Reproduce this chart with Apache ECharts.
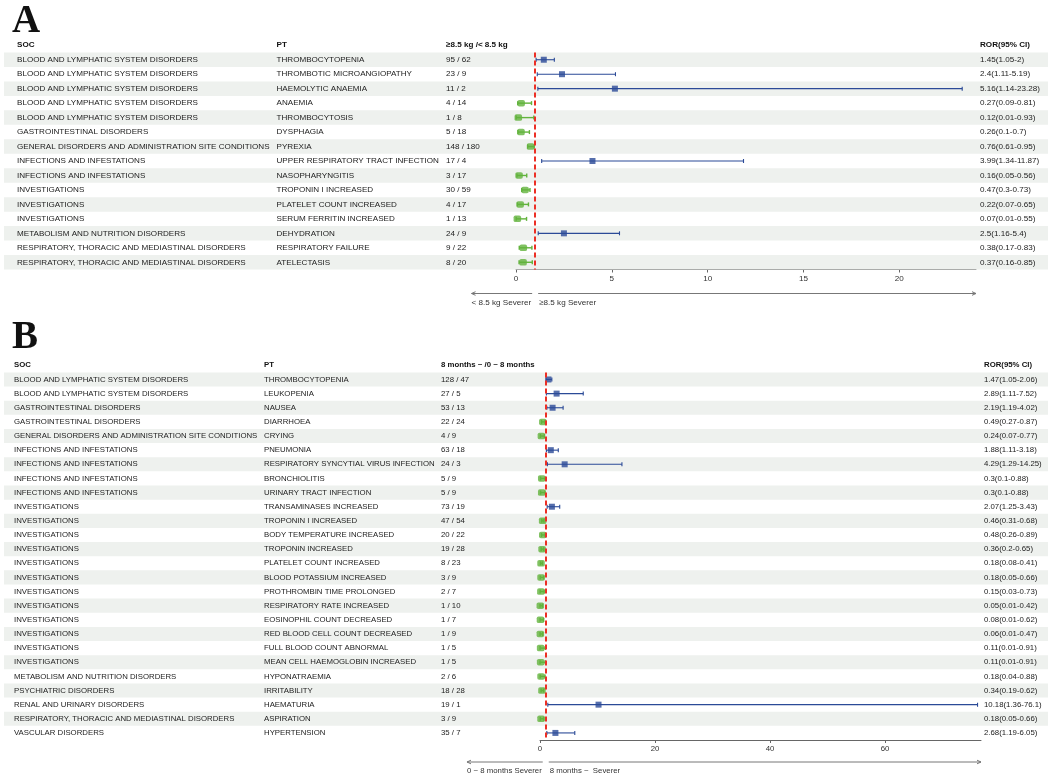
<!DOCTYPE html>
<html lang="en">
<head>
<meta charset="UTF-8">
<title>Forest plot</title>
<script src="https://cdn.jsdelivr.net/npm/echarts@6/dist/echarts.min.js"></script>
<style>
  html, body { margin: 0; padding: 0; background: #fff; }
  #chart { width: 1052px; height: 776px; }
</style>
</head>
<body>
<div id="chart"></div>
<script>
// ---------- panel A : body weight ----------
var socA = [
  'BLOOD AND LYMPHATIC SYSTEM DISORDERS', 'BLOOD AND LYMPHATIC SYSTEM DISORDERS',
  'BLOOD AND LYMPHATIC SYSTEM DISORDERS', 'BLOOD AND LYMPHATIC SYSTEM DISORDERS',
  'BLOOD AND LYMPHATIC SYSTEM DISORDERS', 'GASTROINTESTINAL DISORDERS',
  'GENERAL DISORDERS AND ADMINISTRATION SITE CONDITIONS',
  'INFECTIONS AND INFESTATIONS', 'INFECTIONS AND INFESTATIONS',
  'INVESTIGATIONS', 'INVESTIGATIONS', 'INVESTIGATIONS',
  'METABOLISM AND NUTRITION DISORDERS',
  'RESPIRATORY, THORACIC AND MEDIASTINAL DISORDERS',
  'RESPIRATORY, THORACIC AND MEDIASTINAL DISORDERS'
];
var ptA = [
  'THROMBOCYTOPENIA', 'THROMBOTIC MICROANGIOPATHY', 'HAEMOLYTIC ANAEMIA', 'ANAEMIA',
  'THROMBOCYTOSIS', 'DYSPHAGIA', 'PYREXIA', 'UPPER RESPIRATORY TRACT INFECTION',
  'NASOPHARYNGITIS', 'TROPONIN I INCREASED', 'PLATELET COUNT INCREASED',
  'SERUM FERRITIN INCREASED', 'DEHYDRATION', 'RESPIRATORY FAILURE', 'ATELECTASIS'
];
var countA = ['95 / 62', '23 / 9', '11 / 2', '4 / 14', '1 / 8', '5 / 18', '148 / 180', '17 / 4',
  '3 / 17', '30 / 59', '4 / 17', '1 / 13', '24 / 9', '9 / 22', '8 / 20'];
var rorA = [1.45, 2.4, 5.16, 0.27, 0.12, 0.26, 0.76, 3.99, 0.16, 0.47, 0.22, 0.07, 2.5, 0.38, 0.37];
var loA  = [1.05, 1.11, 1.14, 0.09, 0.01, 0.1, 0.61, 1.34, 0.05, 0.3, 0.07, 0.01, 1.16, 0.17, 0.16];
var hiA  = [2, 5.19, 23.28, 0.81, 0.93, 0.7, 0.95, 11.87, 0.56, 0.73, 0.65, 0.55, 5.4, 0.83, 0.85];
var headA = ['SOC', 'PT', '≥8.5 kg /< 8.5 kg', 'ROR(95% CI)'];
var arrowA = ['< 8.5 kg Severer', '≥8.5 kg Severer'];
var ticksA = [0, 5, 10, 15, 20];
var xMaxA = 24;

// ---------- panel B : age ----------
var socB = [
  'BLOOD AND LYMPHATIC SYSTEM DISORDERS', 'BLOOD AND LYMPHATIC SYSTEM DISORDERS',
  'GASTROINTESTINAL DISORDERS', 'GASTROINTESTINAL DISORDERS',
  'GENERAL DISORDERS AND ADMINISTRATION SITE CONDITIONS',
  'INFECTIONS AND INFESTATIONS', 'INFECTIONS AND INFESTATIONS',
  'INFECTIONS AND INFESTATIONS', 'INFECTIONS AND INFESTATIONS',
  'INVESTIGATIONS', 'INVESTIGATIONS', 'INVESTIGATIONS', 'INVESTIGATIONS',
  'INVESTIGATIONS', 'INVESTIGATIONS', 'INVESTIGATIONS', 'INVESTIGATIONS',
  'INVESTIGATIONS', 'INVESTIGATIONS', 'INVESTIGATIONS', 'INVESTIGATIONS',
  'METABOLISM AND NUTRITION DISORDERS', 'PSYCHIATRIC DISORDERS',
  'RENAL AND URINARY DISORDERS', 'RESPIRATORY, THORACIC AND MEDIASTINAL DISORDERS',
  'VASCULAR DISORDERS'
];
var ptB = [
  'THROMBOCYTOPENIA', 'LEUKOPENIA', 'NAUSEA', 'DIARRHOEA', 'CRYING', 'PNEUMONIA',
  'RESPIRATORY SYNCYTIAL VIRUS INFECTION', 'BRONCHIOLITIS', 'URINARY TRACT INFECTION',
  'TRANSAMINASES INCREASED', 'TROPONIN I INCREASED', 'BODY TEMPERATURE INCREASED',
  'TROPONIN INCREASED', 'PLATELET COUNT INCREASED', 'BLOOD POTASSIUM INCREASED',
  'PROTHROMBIN TIME PROLONGED', 'RESPIRATORY RATE INCREASED', 'EOSINOPHIL COUNT DECREASED',
  'RED BLOOD CELL COUNT DECREASED', 'FULL BLOOD COUNT ABNORMAL',
  'MEAN CELL HAEMOGLOBIN INCREASED', 'HYPONATRAEMIA', 'IRRITABILITY', 'HAEMATURIA',
  'ASPIRATION', 'HYPERTENSION'
];
var countB = ['128 / 47', '27 / 5', '53 / 13', '22 / 24', '4 / 9', '63 / 18', '24 / 3', '5 / 9',
  '5 / 9', '73 / 19', '47 / 54', '20 / 22', '19 / 28', '8 / 23', '3 / 9', '2 / 7', '1 / 10',
  '1 / 7', '1 / 9', '1 / 5', '1 / 5', '2 / 6', '18 / 28', '19 / 1', '3 / 9', '35 / 7'];
var rorB = [1.47, 2.89, 2.19, 0.49, 0.24, 1.88, 4.29, 0.3, 0.3, 2.07, 0.46, 0.48, 0.36, 0.18,
  0.18, 0.15, 0.05, 0.08, 0.06, 0.11, 0.11, 0.18, 0.34, 10.18, 0.18, 2.68];
var loB  = [1.05, 1.11, 1.19, 0.27, 0.07, 1.11, 1.29, 0.1, 0.1, 1.25, 0.31, 0.26, 0.2, 0.08,
  0.05, 0.03, 0.01, 0.01, 0.01, 0.01, 0.01, 0.04, 0.19, 1.36, 0.05, 1.19];
var hiB  = [2.06, 7.52, 4.02, 0.87, 0.77, 3.18, 14.25, 0.88, 0.88, 3.43, 0.68, 0.89, 0.65, 0.41,
  0.66, 0.73, 0.42, 0.62, 0.47, 0.91, 0.91, 0.88, 0.62, 76.1, 0.66, 6.05];
var headB = ['SOC', 'PT', '8 months ~ /0 ~ 8 months', 'ROR(95% CI)'];
var arrowB = ['0 ~ 8 months Severer', '8 months ~  Severer'];
var ticksB = [0, 20, 40, 60];
var xMaxB = 76.7;

var BLUE = '#2b4a97', GREEN = '#62b33c', RED = '#ec2f25', BAND = '#eef1ee';
var FONT = 'Liberation Sans, Arial, sans-serif';

// pixel layout of the two panels
var LAY = [
  { left: 516, top: 52.5, width: 460, height: 217, soc: 17, pt: 276.5, cnt: 446, ror: 980, font: 8.1,
    letter: 'A', letterY: 22, arrowGap: 24 },
  { left: 540, top: 372.4, width: 441, height: 367.6, soc: 14, pt: 264, cnt: 441, ror: 984, font: 7.8,
    letter: 'B', letterY: 338, arrowGap: 22 }
];

var panels = [
  { soc: socA, pt: ptA, cnt: countA, ror: rorA, lo: loA, hi: hiA, head: headA, arrow: arrowA, ticks: ticksA, max: xMaxA, interval: 5 },
  { soc: socB, pt: ptB, cnt: countB, ror: rorB, lo: loB, hi: hiB, head: headB, arrow: arrowB, ticks: ticksB, max: xMaxB, interval: 20 }
];

var grids = [], xAxes = [], yAxes = [], series = [], graphics = [];

panels.forEach(function (p, k) {
  var L = LAY[k];
  var rows = p.ror.map(function (_, i) { return i; });
  var rorText = rows.map(function (i) { return p.ror[i] + '(' + p.lo[i] + '-' + p.hi[i] + ')'; });

  grids.push({ left: L.left, top: L.top, width: L.width, height: L.height, outerBoundsMode: 'none', containLabel: false });

  xAxes.push({
    type: 'value', gridIndex: k, min: 0, max: p.max, interval: p.interval,
    axisLine: { show: true, onZero: false, lineStyle: { color: '#666', width: 1 } },
    axisTick: { show: true, length: 3, customValues: p.ticks, lineStyle: { color: '#666' } },
    axisLabel: { customValues: p.ticks, margin: 5, fontSize: L.font, fontFamily: FONT, color: '#333' },
    splitLine: { show: false }
  });

  // three left text columns + the ROR column are category axes sharing the rows
  [[p.soc, L.soc], [p.pt, L.pt], [p.cnt, L.cnt]].forEach(function (c) {
    yAxes.push({
      type: 'category', gridIndex: k, data: c[0], inverse: true, position: 'left', z: 5,
      axisLine: { show: false }, axisTick: { show: false }, splitLine: { show: false },
      axisLabel: { interval: 0, align: 'left', margin: L.left - c[1], fontSize: L.font, fontFamily: FONT, color: '#222' }
    });
  });
  yAxes.push({
    type: 'category', gridIndex: k, data: rorText, inverse: true, position: 'right', z: 5,
    axisLine: { show: false }, axisTick: { show: false }, splitLine: { show: false },
    axisLabel: { interval: 0, align: 'left', margin: L.ror - L.left - L.width, fontSize: L.font, fontFamily: FONT, color: '#222' }
  });

  var yi = k * 4;

  // zebra bands across the whole table
  series.push({
    type: 'custom', xAxisIndex: k, yAxisIndex: yi, z: 1, silent: true,
    data: rows.filter(function (i) { return i % 2 === 0; }).map(function (i) { return [0, i]; }),
    renderItem: function (params, api) {
      var c = api.coord([0, api.value(1)]);
      var h = api.size([0, 1])[1];
      return { type: 'rect', shape: { x: 4, y: c[1] - h / 2, width: 1044, height: h }, style: { fill: BAND } };
    }
  });

  // confidence intervals
  series.push({
    type: 'custom', xAxisIndex: k, yAxisIndex: yi, z: 3, silent: true,
    data: rows.map(function (i) { return [p.lo[i], p.hi[i], i, p.ror[i]]; }),
    renderItem: function (params, api) {
      var y = api.value(2);
      var a = api.coord([api.value(0), y]);
      var b = api.coord([api.value(1), y]);
      var up = api.value(3) > 1;
      var st = { stroke: up ? BLUE : GREEN, lineWidth: up ? 1.1 : 1.4 };
      return { type: 'group', children: [
        { type: 'line', shape: { x1: a[0], y1: a[1], x2: b[0], y2: b[1] }, style: st },
        { type: 'line', shape: { x1: a[0], y1: a[1] - 2, x2: a[0], y2: a[1] + 2 }, style: st },
        { type: 'line', shape: { x1: b[0], y1: b[1] - 2, x2: b[0], y2: b[1] + 2 }, style: st }
      ] };
    }
  });

  // point estimates + reference line at ROR = 1
  series.push({
    type: 'scatter', xAxisIndex: k, yAxisIndex: yi, z: 4, silent: true,
    data: rows.map(function (i) {
      var up = p.ror[i] > 1;
      return { value: [p.ror[i], i], symbol: up ? 'rect' : 'roundRect',
        symbolSize: up ? [6, 6] : [7.5, 6.5], itemStyle: { color: up ? BLUE : GREEN } };
    }),
    markLine: {
      silent: true, symbol: 'none', animation: false,
      label: { show: false },
      lineStyle: { color: RED, type: [5, 3], width: 2 },
      data: [{ xAxis: 1 }]
    }
  });

  // panel letter and column headers
  graphics.push({ type: 'text', x: 12, y: L.letterY, style: { text: L.letter, font: 'bold 39px "Liberation Serif", "Times New Roman", serif', fill: '#111', verticalAlign: 'middle' } });
  [L.soc, L.pt, L.cnt, L.ror].forEach(function (x, j) {
    graphics.push({ type: 'text', x: x, y: L.top - 8, style: { text: p.head[j], font: 'bold ' + L.font + 'px ' + FONT, fill: '#111', verticalAlign: 'middle' } });
  });
});

var chart = echarts.init(document.getElementById('chart'), null, { renderer: 'canvas' });
chart.setOption({
  animation: false,
  backgroundColor: '#fff',
  grid: grids, xAxis: xAxes, yAxis: yAxes, series: series
});

// direction arrows under each axis, placed from the axis scale
var ctx = document.createElement('canvas').getContext('2d');
panels.forEach(function (p, k) {
  var L = LAY[k];
  var p1 = chart.convertToPixel({ xAxisIndex: k }, 1);
  var pEnd = chart.convertToPixel({ xAxisIndex: k }, p.max);
  var ay = L.top + L.height + L.arrowGap;
  ctx.font = L.font + 'px ' + FONT;
  var leftLen = ctx.measureText(p.arrow[0]).width + 1;
  var ln = { stroke: '#777', lineWidth: 1 };
  var xa = p1 - 3, xb = xa - leftLen, xc = p1 + 3;
  graphics.push(
    { type: 'line', shape: { x1: xa, y1: ay, x2: xb, y2: ay }, style: ln },
    { type: 'polyline', shape: { points: [[xb + 4, ay - 1.8], [xb, ay], [xb + 4, ay + 1.8]] }, style: ln },
    { type: 'line', shape: { x1: xc, y1: ay, x2: pEnd, y2: ay }, style: ln },
    { type: 'polyline', shape: { points: [[pEnd - 4, ay - 1.8], [pEnd, ay], [pEnd - 4, ay + 1.8]] }, style: ln },
    { type: 'text', x: xb, y: ay + 9, style: { text: p.arrow[0], font: L.font + 'px ' + FONT, fill: '#333', verticalAlign: 'middle' } },
    { type: 'text', x: xc + 1, y: ay + 9, style: { text: p.arrow[1], font: L.font + 'px ' + FONT, fill: '#333', verticalAlign: 'middle' } }
  );
});
chart.setOption({ graphic: graphics });
</script>
</body>
</html>
